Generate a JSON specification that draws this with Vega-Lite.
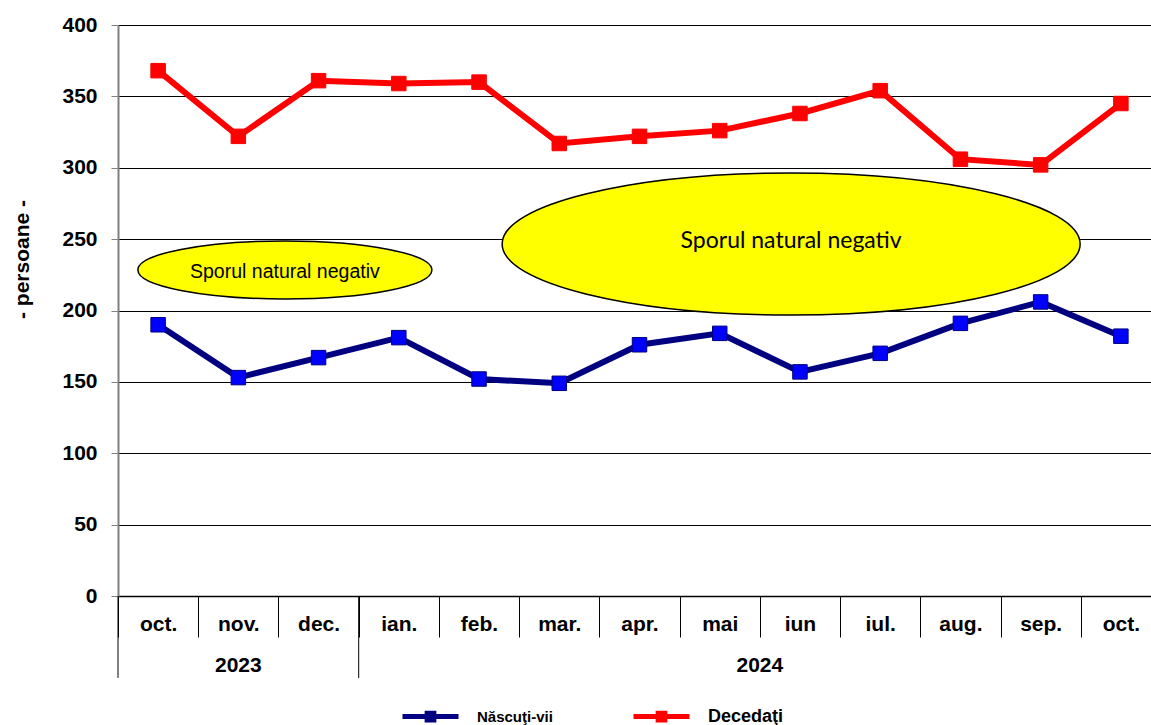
{
  "$schema": "https://vega.github.io/schema/vega-lite/v6.json",
  "width": 1033,
  "height": 571,
  "autosize": {"type": "none"},
  "padding": {"left": 118, "top": 25, "right": 0, "bottom": 129},
  "background": "white",
  "config": {"view": {"stroke": null}, "font": "Liberation Sans"},
  "datasets": {
    "series": [
      {"m": "2023 oct.", "serie": "Născuţi-vii", "v": 190},
      {"m": "2023 nov.", "serie": "Născuţi-vii", "v": 153},
      {"m": "2023 dec.", "serie": "Născuţi-vii", "v": 167},
      {"m": "2024 ian.", "serie": "Născuţi-vii", "v": 181},
      {"m": "2024 feb.", "serie": "Născuţi-vii", "v": 152},
      {"m": "2024 mar.", "serie": "Născuţi-vii", "v": 149},
      {"m": "2024 apr.", "serie": "Născuţi-vii", "v": 176},
      {"m": "2024 mai", "serie": "Născuţi-vii", "v": 184},
      {"m": "2024 iun", "serie": "Născuţi-vii", "v": 157},
      {"m": "2024 iul.", "serie": "Născuţi-vii", "v": 170},
      {"m": "2024 aug.", "serie": "Născuţi-vii", "v": 191},
      {"m": "2024 sep.", "serie": "Născuţi-vii", "v": 206},
      {"m": "2024 oct.", "serie": "Născuţi-vii", "v": 182},
      {"m": "2023 oct.", "serie": "Decedaţi", "v": 368},
      {"m": "2023 nov.", "serie": "Decedaţi", "v": 322},
      {"m": "2023 dec.", "serie": "Decedaţi", "v": 361},
      {"m": "2024 ian.", "serie": "Decedaţi", "v": 359},
      {"m": "2024 feb.", "serie": "Decedaţi", "v": 360},
      {"m": "2024 mar.", "serie": "Decedaţi", "v": 317},
      {"m": "2024 apr.", "serie": "Decedaţi", "v": 322},
      {"m": "2024 mai", "serie": "Decedaţi", "v": 326},
      {"m": "2024 iun", "serie": "Decedaţi", "v": 338},
      {"m": "2024 iul.", "serie": "Decedaţi", "v": 354},
      {"m": "2024 aug.", "serie": "Decedaţi", "v": 306},
      {"m": "2024 sep.", "serie": "Decedaţi", "v": 302},
      {"m": "2024 oct.", "serie": "Decedaţi", "v": 345}
    ],
    "ell1": [{"xc": 2.08, "yc": 228.4, "t": "Sporul natural negativ"}],
    "ell2": [{"xc": 8.39, "yc": 246.6, "t": "Sporul natural negativ"}],
    "years": [{"m": "2023 nov.", "year": "2023"}, {"m": "2024 mai", "year": "2024"}],
    "seps": [{"m": "2023 oct."}, {"m": "2024 ian."}]
  },
  "layer": [
    {
      "layer": [
        {
          "data": {"name": "ell1"},
          "mark": {"type": "point", "shape": "M-1,0A1,0.197,0,1,1,1,0A1,0.197,0,1,1,-1,0Z", "size": 86436, "filled": true, "fill": "#FFFF00", "stroke": "#000000", "strokeWidth": 1.5, "opacity": 1},
          "encoding": {
            "x": {"field": "xc", "type": "quantitative", "scale": {"domain": [0, 13], "range": [0, 1043]}, "axis": null},
            "y": {"field": "yc", "type": "quantitative", "scale": {"domain": [0, 400], "nice": false}}
          }
        },
        {
          "data": {"name": "ell1"},
          "mark": {"type": "text", "font": "Liberation Sans", "fontSize": 19.5, "color": "#000000", "align": "center", "baseline": "middle", "dy": 2},
          "encoding": {
            "x": {"field": "xc", "type": "quantitative", "axis": null},
            "y": {"field": "yc", "type": "quantitative"},
            "text": {"field": "t"}
          }
        },
        {
          "data": {"name": "ell2"},
          "mark": {"type": "point", "shape": "M-1,0A1,0.2457,0,1,1,1,0A1,0.2457,0,1,1,-1,0Z", "size": 334084, "filled": true, "fill": "#FFFF00", "stroke": "#000000", "strokeWidth": 1.5, "opacity": 1},
          "encoding": {
            "x": {"field": "xc", "type": "quantitative", "axis": null},
            "y": {"field": "yc", "type": "quantitative"}
          }
        },
        {
          "data": {"name": "ell2"},
          "mark": {"type": "text", "font": "Lato", "fontSize": 23, "color": "#000000", "align": "center", "baseline": "middle", "dy": -3},
          "encoding": {
            "x": {"field": "xc", "type": "quantitative", "axis": null},
            "y": {"field": "yc", "type": "quantitative"},
            "text": {"field": "t"}
          }
        }
      ]
    },
    {
      "encoding": {
        "x": {
          "field": "m", "type": "nominal",
          "scale": {"type": "band", "domain": ["2023 oct.", "2023 nov.", "2023 dec.", "2024 ian.", "2024 feb.", "2024 mar.", "2024 apr.", "2024 mai", "2024 iun", "2024 iul.", "2024 aug.", "2024 sep.", "2024 oct."], "range": [0, 1043], "paddingInner": 0, "paddingOuter": 0},
          "axis": {
            "orient": "bottom",
            "title": null, "labelExpr": "datum.value ? substring(datum.value, 5) : ''", "labelAngle": 0,
            "tickBand": "extent", "tickSize": 41, "tickColor": "#000000", "tickWidth": 1,
            "domainColor": "#000000", "domainWidth": 1.5,
            "labelFontSize": 21, "labelFontWeight": "bold", "labelColor": "#000000",
            "labelBaseline": "top", "labelPadding": -24, "grid": false
          }
        }
      },
      "layer": [
        {
          "data": {"name": "series"},
          "mark": {"type": "line", "strokeWidth": 6},
          "encoding": {
            "y": {
              "field": "v", "type": "quantitative",
              "scale": {"domain": [0, 400], "nice": false},
              "axis": {
                "values": [0, 50, 100, 150, 200, 250, 300, 350, 400],
                "title": "- persoane -", "titleFontSize": 21, "titleFontWeight": "bold", "titleColor": "#000000",
                "titleX": -96, "titleY": 234, "titleBaseline": "middle", "titleAngle": -90,
                "labelFontSize": 21, "labelFontWeight": "bold", "labelColor": "#000000", "labelPadding": 14,
                "tickSize": 7, "tickColor": "#808080", "domainColor": "#808080", "domainWidth": 2,
                "grid": true, "gridColor": "#000000", "gridWidth": 1, "gridOpacity": 1
              }
            },
            "color": {
              "field": "serie", "type": "nominal",
              "scale": {"domain": ["Născuţi-vii", "Decedaţi"], "range": ["#000080", "#FF0000"]},
              "legend": {
                "title": null, "orient": "none", "direction": "horizontal",
                "legendX": 282, "legendY": 661, "columnPadding": 70,
                "symbolType": "M-1,0L1,0M-0.12,-0.12L0.12,-0.12L0.12,0.12L-0.12,0.12Z",
                "symbolSize": 3136, "symbolStrokeWidth": 5, "labelOffset": 16,
                "labelFontWeight": "bold", "labelFontSize": 15, "labelColor": "#000000",
                "encode": {
                  "symbols": {"update": {"fill": {"signal": "datum.value === 'Decedaţi' ? '#FF0000' : '#0000FF'"}, "fillOpacity": {"value": 1}}},
                  "labels": {"update": {"fontSize": {"signal": "datum.value === 'Decedaţi' ? 18 : 15"}}}
                }
              }
            }
          }
        },
        {
          "data": {"name": "series"},
          "mark": {"type": "point", "shape": "square", "size": 210, "filled": true, "strokeWidth": 1, "opacity": 1},
          "encoding": {
            "y": {"field": "v", "type": "quantitative"},
            "fill": {"field": "serie", "type": "nominal", "scale": {"domain": ["Născuţi-vii", "Decedaţi"], "range": ["#0000FF", "#FF0000"]}, "legend": null},
            "stroke": {"field": "serie", "type": "nominal", "scale": {"domain": ["Născuţi-vii", "Decedaţi"], "range": ["#000080", "#FF0000"]}, "legend": null}
          }
        },
        {
          "data": {"name": "seps"},
          "mark": {"type": "rule", "color": "#000000", "strokeWidth": 1},
          "encoding": {
            "x": {"field": "m", "type": "nominal", "bandPosition": 0},
            "y": {"datum": 0},
            "y2": {"datum": -57.4}
          }
        },
        {
          "data": {"name": "years"},
          "transform": [{"filter": "datum.year === '2023'"}],
          "mark": {"type": "text", "fontSize": 21, "fontWeight": "bold", "color": "#000000", "baseline": "alphabetic"},
          "encoding": {
            "x": {"field": "m", "type": "nominal", "bandPosition": 0.5},
            "y": {"datum": -53.4},
            "text": {"field": "year"}
          }
        },
        {
          "data": {"name": "years"},
          "transform": [{"filter": "datum.year === '2024'"}],
          "mark": {"type": "text", "fontSize": 21, "fontWeight": "bold", "color": "#000000", "baseline": "alphabetic"},
          "encoding": {
            "x": {"field": "m", "type": "nominal", "bandPosition": 1},
            "y": {"datum": -53.4},
            "text": {"field": "year"}
          }
        }
      ]
    }
  ],
  "resolve": {"scale": {"x": "independent"}}
}
